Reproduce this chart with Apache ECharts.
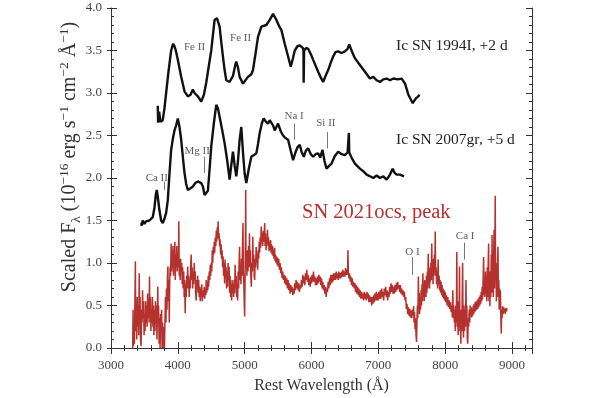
<!DOCTYPE html>
<html>
<head>
<meta charset="utf-8">
<script src="https://cdn.jsdelivr.net/npm/echarts@6/dist/echarts.min.js"></script>
<style>
  html, body { margin: 0; padding: 0; background: #fff; }
  #chart { width: 600px; height: 398px; }
</style>
</head>
<body>
<div id="chart"></div>
<script>
// SN 1994I, +2 d  [rest wavelength (A), scaled flux]
const sn1994I = [
  [3700,2.85],[3705,2.65],[3720,2.78],[3740,2.66],[3774,2.68],[3800,2.82],[3825,3.0],[3860,3.25],
  [3900,3.5],[3930,3.58],[3950,3.55],[3970,3.5],[4000,3.39],[4050,3.19],[4100,3.02],[4150,2.96],
  [4190,2.98],[4225,3.04],[4250,3.0],[4275,3.02],[4300,2.96],[4350,2.90],[4390,2.98],[4425,3.12],
  [4460,3.3],[4500,3.5],[4550,3.86],[4585,3.88],[4625,3.78],[4650,3.6],[4675,3.43],[4700,3.27],
  [4725,3.15],[4775,3.13],[4825,3.2],[4860,3.33],[4875,3.37],[4900,3.3],[4925,3.19],[4975,3.11],
  [5000,3.13],[5050,3.19],[5100,3.22],[5125,3.27],[5160,3.45],[5200,3.66],[5250,3.78],[5325,3.8],
  [5375,3.86],[5425,3.93],[5475,3.86],[5520,3.78],[5550,3.74],[5600,3.58],[5650,3.43],[5690,3.31],
  [5720,3.4],[5750,3.5],[5790,3.55],[5825,3.56],[5870,3.53],[5880,3.5],[5883,3.12],[5887,3.12],
  [5890,3.5],[5920,3.53],[5950,3.52],[6000,3.44],[6025,3.39],[6100,3.25],[6140,3.18],[6175,3.13],
  [6210,3.2],[6250,3.27],[6290,3.36],[6325,3.43],[6360,3.48],[6400,3.49],[6450,3.47],[6500,3.49],
  [6540,3.52],[6565,3.57],[6575,3.55],[6610,3.48],[6650,3.41],[6725,3.33],[6800,3.25],[6875,3.17],
  [6925,3.19],[6975,3.15],[7025,3.13],[7075,3.16],[7125,3.17],[7175,3.15],[7225,3.17],[7290,3.16],
  [7350,3.17],[7400,3.11],[7450,2.98],[7515,2.88],[7540,2.9],[7565,2.94],[7600,2.96],[7615,2.98]
];

// SN 2007gr, +5 d
const sn2007gr = [
  [3450,1.47],[3460,1.44],[3475,1.5],[3500,1.46],[3525,1.49],[3550,1.47],[3575,1.5],[3600,1.5],
  [3625,1.54],[3650,1.65],[3670,1.8],[3685,1.86],[3700,1.78],[3725,1.62],[3750,1.5],[3775,1.47],
  [3800,1.52],[3825,1.59],[3850,1.74],[3875,2.05],[3900,2.33],[3925,2.46],[3950,2.56],[3975,2.62],
  [4000,2.70],[4025,2.6],[4050,2.45],[4075,2.25],[4100,2.06],[4125,1.93],[4150,1.86],[4190,1.88],
  [4225,1.9],[4260,1.94],[4300,1.96],[4325,1.98],[4350,1.94],[4375,1.9],[4400,1.8],[4425,1.78],
  [4450,1.85],[4475,2.1],[4500,2.37],[4540,2.65],[4575,2.86],[4600,2.82],[4625,2.72],[4660,2.58],
  [4700,2.41],[4740,2.2],[4775,1.98],[4800,2.15],[4825,2.31],[4850,2.15],[4875,2.02],[4900,2.2],
  [4925,2.45],[4950,2.6],[4975,2.3],[5000,2.05],[5025,1.94],[5060,2.1],[5100,2.25],[5140,2.27],
  [5175,2.29],[5200,2.4],[5225,2.53],[5260,2.65],[5285,2.70],[5320,2.66],[5350,2.64],[5375,2.68],
  [5400,2.70],[5425,2.62],[5450,2.56],[5475,2.6],[5500,2.64],[5540,2.55],[5575,2.5],[5610,2.47],
  [5650,2.45],[5690,2.32],[5725,2.21],[5760,2.3],[5790,2.36],[5825,2.39],[5855,2.3],[5885,2.25],
  [5915,2.32],[5950,2.35],[5990,2.28],[6025,2.25],[6060,2.28],[6100,2.29],[6130,2.24],[6165,2.33],
  [6195,2.2],[6225,2.11],[6260,2.14],[6300,2.17],[6350,2.26],[6400,2.31],[6450,2.28],[6500,2.27],
  [6540,2.3],[6555,2.32],[6560,2.53],[6565,2.3],[6600,2.24],[6650,2.17],[6725,2.11],[6775,2.08],
  [6825,2.04],[6875,2.02],[6925,2.0],[6975,2.03],[7025,2.0],[7075,2.02],[7125,1.98],[7175,2.04],
  [7215,2.11],[7245,2.06],[7275,2.04],[7325,2.04],[7385,2.02]
];

// SN 2021ocs, peak (noisy spectrum)
const sn2021ocs = [
  [3325,0],[3330,0.45],[3335,0.02],[3345,0.3],[3350,0.05],[3358,0.55],[3365,1.02],[3370,0.2],
  [3378,0.45],[3385,0.1],[3392,0.6],[3400,0.25],[3408,0.5],[3415,0.15],[3422,0.88],[3428,0.4],
  [3435,0.6],[3442,0.1],[3450,0.02],[3458,0.45],[3465,0.3],[3472,0.68],[3480,0.35],[3488,0.55],
  [3495,0.15],[3502,0.4],[3510,0.2],[3518,0.55],[3525,0.3],[3532,0.5],[3540,0.25],[3548,0.64],
  [3555,0.35],[3562,0.55],[3570,0.3],[3576,0.84],[3582,0.4],[3590,0.6],[3597,0.2],[3605,0.45],
  [3612,0.3],[3620,0.6],[3627,0.25],[3635,0.5],[3642,0.15],[3650,0.45],[3658,0.2],[3665,0.55],
  [3672,0.3],[3680,0.5],[3688,0.1],[3695,0.45],[3700,0.72],[3706,0.3],[3712,0.5],[3720,0.05],
  [3727,0.35],[3735,0.0],[3742,0.4],[3750,0.2],[3757,0.45],[3765,0.0],[3772,0.3],[3780,0.0],
  [3790,0.25],[3800,0.0],[3808,0.35],[3815,0.6],[3822,0.3],[3830,0.7],[3838,0.45],[3845,0.85],
  [3852,0.96],[3858,0.55],[3865,0.8],[3872,0.3],[3878,0.75],[3885,0.95],[3892,0.85],[3900,1.23],
  [3907,0.9],[3914,1.1],[3920,0.95],[3928,1.2],[3935,0.85],[3942,1.15],[3950,1.05],[3956,1.25],
  [3962,0.8],[3970,1.1],[3977,0.95],[3985,1.2],[3992,0.9],[4000,1.1],[4008,0.95],[4015,1.49],
  [4021,0.85],[4028,1.0],[4035,0.8],[4042,1.05],[4050,0.9],[4058,1.0],[4065,0.75],[4072,0.95],
  [4080,0.7],[4088,0.9],[4095,0.6],[4102,0.8],[4110,0.41],[4118,0.75],[4125,0.6],[4132,0.85],
  [4140,0.7],[4148,0.96],[4155,0.7],[4162,0.85],[4170,0.6],[4178,0.8],[4185,0.7],[4192,0.95],
  [4200,1.1],[4207,0.8],[4214,0.95],[4222,0.7],[4230,0.9],[4237,0.75],[4245,1.0],[4252,0.8],
  [4260,0.9],[4267,0.65],[4275,0.56],[4282,0.8],[4290,0.7],[4297,0.85],[4305,0.65],[4312,0.8],
  [4320,0.6],[4328,0.72],[4335,0.55],[4343,0.7],[4350,0.6],[4358,0.75],[4365,0.55],[4372,0.53],
  [4380,0.68],[4388,0.6],[4395,0.72],[4402,0.58],[4410,0.7],[4418,0.62],[4425,0.8],[4432,0.65],
  [4440,0.78],[4448,0.68],[4455,0.85],[4462,0.72],[4470,0.9],[4478,0.8],[4485,0.98],[4492,0.85],
  [4500,1.0],[4508,0.9],[4515,1.15],[4522,1.0],[4530,1.19],[4538,1.1],[4545,1.25],[4552,1.12],
  [4560,1.3],[4568,1.2],[4575,1.38],[4582,1.25],[4590,1.42],[4597,1.3],[4603,1.49],[4610,1.28],
  [4618,1.35],[4625,1.2],[4632,1.28],[4640,1.1],[4648,1.22],[4655,1.05],[4662,1.15],[4670,0.95],
  [4677,1.08],[4685,0.85],[4692,1.0],[4700,0.76],[4707,1.04],[4714,0.82],[4722,0.95],[4730,0.7],
  [4737,0.9],[4745,0.72],[4752,1.0],[4760,0.8],[4767,0.96],[4775,0.65],[4782,0.85],[4790,0.6],
  [4797,0.75],[4805,0.56],[4812,0.8],[4820,0.65],[4827,0.75],[4835,0.6],[4842,0.8],[4850,0.64],
  [4857,0.98],[4864,0.7],[4872,0.85],[4880,0.6],[4887,0.75],[4895,0.56],[4902,0.9],[4910,0.7],
  [4917,1.0],[4924,1.19],[4930,0.8],[4938,0.95],[4945,0.75],[4952,1.05],[4960,0.85],[4968,1.2],
  [4975,1.47],[4981,0.9],[4988,0.75],[4995,0.5],[5000,0.37],[5006,0.8],[5012,1.3],[5016,1.86],
  [5020,0.95],[5027,1.1],[5034,0.85],[5042,1.15],[5050,0.9],[5058,1.2],[5066,0.95],[5072,1.35],
  [5078,1.0],[5085,1.15],[5092,0.85],[5100,0.72],[5107,1.0],[5115,0.9],[5122,1.31],[5128,0.95],
  [5136,1.1],[5143,0.85],[5150,0.8],[5158,1.05],[5165,0.95],[5172,1.19],[5180,1.0],[5188,1.1],
  [5195,0.92],[5202,1.15],[5210,1.05],[5218,1.25],[5225,1.12],[5232,1.3],[5240,1.18],[5248,1.43],
  [5255,1.25],[5262,1.35],[5270,1.2],[5278,1.38],[5285,1.25],[5292,1.32],[5300,1.47],[5306,1.2],
  [5314,1.35],[5320,1.15],[5328,1.3],[5335,1.2],[5342,1.39],[5350,1.22],[5357,1.3],[5365,1.14],
  [5372,1.25],[5380,1.15],[5388,1.27],[5395,1.12],[5402,1.22],[5410,1.1],[5418,1.2],[5425,1.08],
  [5433,1.15],[5440,1.05],[5448,1.18],[5455,1.02],[5462,1.1],[5470,1.0],[5478,1.08],[5485,0.98],
  [5492,1.06],[5500,0.96],[5510,1.05],[5520,0.92],[5530,1.0],[5540,0.88],[5550,0.95],[5560,0.82],
  [5570,0.9],[5580,0.8],[5590,0.86],[5600,0.76],[5610,0.85],[5620,0.74],[5630,0.82],[5640,0.7],
  [5650,0.8],[5660,0.68],[5670,0.76],[5680,0.64],[5690,0.74],[5700,0.66],[5710,0.72],[5720,0.62],
  [5730,0.7],[5740,0.64],[5750,0.76],[5760,0.68],[5770,0.8],[5780,0.7],[5790,0.78],[5800,0.68],
  [5810,0.76],[5820,0.66],[5830,0.74],[5840,0.7],[5850,0.8],[5860,0.72],[5870,0.86],[5880,0.76],
  [5890,0.84],[5900,0.74],[5910,0.88],[5920,0.8],[5930,0.92],[5940,0.78],[5950,0.86],[5960,0.74],
  [5970,0.82],[5980,0.72],[5990,0.84],[6000,0.76],[6010,0.86],[6020,0.78],[6030,0.9],[6040,0.78],
  [6050,0.84],[6060,0.74],[6070,0.82],[6080,0.74],[6090,0.84],[6100,0.76],[6110,0.86],[6120,0.78],
  [6130,0.84],[6140,0.74],[6150,0.82],[6160,0.7],[6170,0.78],[6180,0.68],[6190,0.74],[6200,0.64],
  [6210,0.72],[6220,0.6],[6230,0.7],[6240,0.66],[6250,0.78],[6260,0.7],[6270,0.82],[6280,0.74],
  [6290,0.86],[6300,0.76],[6310,0.86],[6320,0.78],[6330,0.88],[6340,0.8],[6350,0.88],[6360,0.8],
  [6370,0.9],[6380,0.82],[6390,0.88],[6400,0.8],[6410,0.9],[6420,0.82],[6430,0.88],[6440,0.82],
  [6450,0.9],[6460,0.84],[6470,0.92],[6480,0.84],[6490,0.9],[6500,0.84],[6510,0.94],[6520,0.86],
  [6530,0.92],[6540,0.86],[6546,1.15],[6552,0.88],[6560,0.82],[6570,0.88],[6580,0.78],[6590,0.84],
  [6600,0.74],[6610,0.82],[6620,0.72],[6630,0.78],[6640,0.7],[6650,0.76],[6660,0.66],[6670,0.74],
  [6680,0.64],[6690,0.72],[6700,0.62],[6710,0.7],[6720,0.6],[6730,0.68],[6740,0.58],[6750,0.66],
  [6760,0.58],[6770,0.64],[6780,0.56],[6790,0.66],[6800,0.58],[6810,0.64],[6820,0.56],[6830,0.66],
  [6840,0.58],[6850,0.64],[6860,0.54],[6870,0.62],[6880,0.54],[6890,0.6],[6900,0.5],[6910,0.6],
  [6920,0.52],[6930,0.62],[6940,0.54],[6950,0.64],[6960,0.56],[6970,0.66],[6980,0.56],[6990,0.64],
  [7000,0.56],[7010,0.66],[7020,0.58],[7030,0.68],[7040,0.58],[7050,0.7],[7060,0.6],[7070,0.66],
  [7080,0.56],[7090,0.7],[7100,0.62],[7110,0.72],[7120,0.6],[7130,0.68],[7140,0.56],[7150,0.66],
  [7160,0.6],[7170,0.72],[7180,0.64],[7190,0.76],[7200,0.66],[7210,0.74],[7220,0.64],[7230,0.72],
  [7240,0.64],[7250,0.74],[7260,0.66],[7270,0.76],[7280,0.68],[7290,0.78],[7300,0.7],[7310,0.74],
  [7320,0.66],[7330,0.74],[7340,0.64],[7350,0.7],[7360,0.62],[7370,0.68],[7380,0.6],[7390,0.66],
  [7400,0.56],[7410,0.6],[7420,0.46],[7430,0.52],[7440,0.4],[7450,0.48],[7460,0.38],[7470,0.46],
  [7480,0.36],[7490,0.44],[7500,0.35],[7510,0.45],[7520,0.38],[7528,0.49],[7535,0.3],[7542,0.42],
  [7550,0.22],[7557,0.35],[7565,0.15],[7572,0.07],[7578,0.3],[7585,0.5],[7592,0.35],[7600,0.84],
  [7606,0.45],[7612,0.65],[7618,0.4],[7625,0.6],[7632,0.45],[7640,0.68],[7647,0.5],[7654,0.75],
  [7660,0.55],[7667,0.88],[7673,0.6],[7680,0.72],[7687,0.55],[7694,0.8],[7700,0.6],[7707,0.75],
  [7714,0.6],[7720,0.85],[7727,0.65],[7734,0.9],[7740,0.7],[7747,1.11],[7753,0.75],[7760,0.9],
  [7767,0.7],[7774,0.95],[7780,0.78],[7787,1.0],[7793,0.8],[7800,1.23],[7806,0.85],[7813,0.95],
  [7820,0.75],[7827,1.05],[7833,0.85],[7840,1.1],[7846,0.9],[7852,1.37],[7858,0.85],[7865,0.95],
  [7872,0.75],[7880,0.9],[7887,0.7],[7895,1.04],[7902,0.75],[7910,0.85],[7917,0.68],[7925,0.8],
  [7932,0.65],[7940,0.78],[7948,0.62],[7955,0.74],[7963,0.6],[7970,0.7],[7978,0.58],[7985,0.68],
  [7993,0.56],[8000,0.66],[8010,0.54],[8020,0.62],[8030,0.5],[8040,0.6],[8050,0.48],[8060,0.56],
  [8070,0.46],[8080,0.54],[8090,0.42],[8100,0.5],[8108,0.36],[8115,0.68],[8122,0.35],[8130,0.5],
  [8138,0.3],[8145,0.45],[8152,0.2],[8160,0.5],[8168,0.3],[8175,1.13],[8181,0.25],[8188,0.45],
  [8195,0.15],[8202,0.55],[8208,0.3],[8215,0.96],[8221,0.2],[8228,0.4],[8235,0.05],[8242,0.45],
  [8250,0.2],[8256,0.6],[8262,1.0],[8268,0.3],[8275,0.12],[8282,0.5],[8290,0.2],[8297,0.45],
  [8305,0.25],[8312,0.8],[8318,0.3],[8325,0.5],[8332,0.1],[8338,0.05],[8345,0.35],[8352,0.25],
  [8360,0.45],[8368,0.3],[8375,0.5],[8383,0.38],[8390,0.48],[8398,0.36],[8405,0.46],[8413,0.38],
  [8420,0.5],[8428,0.4],[8435,0.52],[8443,0.42],[8450,0.54],[8458,0.44],[8465,0.55],[8473,0.45],
  [8480,0.56],[8488,0.46],[8495,0.58],[8503,0.48],[8510,0.6],[8518,0.5],[8525,0.62],[8533,0.52],
  [8540,0.66],[8548,0.55],[8555,0.72],[8562,0.58],[8570,0.85],[8576,1.07],[8582,0.62],[8590,0.8],
  [8597,0.6],[8604,0.9],[8610,0.65],[8617,0.84],[8624,0.55],[8631,0.95],[8638,0.6],[8645,1.0],
  [8651,1.23],[8657,0.55],[8664,0.8],[8670,0.49],[8677,0.9],[8684,0.6],[8690,1.1],[8697,0.7],
  [8702,1.33],[8708,0.65],[8715,1.0],[8721,0.6],[8727,1.15],[8733,1.39],[8739,0.7],[8745,1.2],
  [8750,1.79],[8755,0.8],[8761,1.0],[8767,0.55],[8773,0.9],[8779,0.6],[8785,1.05],[8791,1.19],
  [8797,0.6],[8803,0.8],[8809,0.45],[8815,0.7],[8821,0.5],[8827,0.68],[8833,0.4],[8840,0.17],
  [8846,0.45],[8852,0.35],[8860,0.49],[8868,0.4],[8876,0.48],[8884,0.42],[8892,0.46],[8900,0.4],
  [8910,0.47],[8918,0.43],[8925,0.47]
];

// line identifications: label text and where it sits (wavelength, flux)
const lineNames = ['Fe II', 'Fe II', 'Ca II', 'Mg II', 'Na I', 'Si II', 'O I', 'Ca I'];
const lineLabelWave = [4250, 4940, 3685, 4290, 5740, 6215, 7510, 8300];
const lineLabelFlux = [3.54, 3.65, 2.0, 2.32, 2.73, 2.64, 1.13, 1.32];
// small vertical marker bars under some labels
const markWave = [3790, 4400, 5740, 6240, 7515, 8290];
const markTop = [1.96, 2.25, 2.64, 2.54, 1.07, 1.24];
const markBottom = [1.86, 2.06, 2.45, 2.35, 0.86, 1.04];

const xTicks = [3000, 4000, 5000, 6000, 7000, 8000, 9000];

const FONT = 'Liberation Serif';
const AX = '#333';

const chart = echarts.init(document.getElementById('chart'), null, { renderer: 'canvas' });

const base = { type: 'value', min: 3000, max: 9300, splitLine: { show: false } };
const yBase = { type: 'value', min: 0, max: 4, splitLine: { show: false } };
const line = { show: true, lineStyle: { color: AX, width: 1 } };

chart.setOption({
  animation: false,
  grid: { left: 111, right: 68, top: 8, bottom: 50, outerBoundsMode: 'none' },
  xAxis: [
    {
      ...base, position: 'bottom', interval: 1000, axisLine: line,
      axisTick: { inside: true, length: 6, lineStyle: { color: AX } },
      axisLabel: {
        margin: 11, fontFamily: FONT, fontSize: 13, color: '#444',
        formatter: v => xTicks.includes(v) ? String(v) : ''
      },
      name: 'Rest Wavelength (Å)', nameLocation: 'middle', nameGap: 30,
      nameTextStyle: { fontFamily: FONT, fontSize: 16, color: '#333' }
    },
    { ...base, position: 'bottom', interval: 200, axisLine: { show: false },
      axisTick: { inside: true, length: 3, lineStyle: { color: AX } }, axisLabel: { show: false } },
    { ...base, position: 'bottom', interval: 1000, axisLine: { show: false },
      axisTick: { inside: false, length: 4, lineStyle: { color: AX } }, axisLabel: { show: false } },
    { ...base, position: 'top', interval: 1000, axisLine: line,
      axisTick: { inside: true, length: 6, lineStyle: { color: AX } }, axisLabel: { show: false } },
    { ...base, position: 'top', interval: 200, axisLine: { show: false },
      axisTick: { inside: true, length: 3, lineStyle: { color: AX } }, axisLabel: { show: false } }
  ],
  yAxis: [
    {
      ...yBase, position: 'left', interval: 0.5, axisLine: line,
      axisTick: { inside: true, length: 6, lineStyle: { color: AX } },
      axisLabel: { margin: 9, fontFamily: FONT, fontSize: 13, color: '#444', formatter: v => v.toFixed(1) }
    },
    { ...yBase, position: 'left', interval: 0.1, axisLine: { show: false },
      axisTick: { inside: true, length: 3, lineStyle: { color: AX } }, axisLabel: { show: false } },
    { ...yBase, position: 'left', interval: 0.5, axisLine: { show: false },
      axisTick: { inside: false, length: 4, lineStyle: { color: AX } }, axisLabel: { show: false } },
    { ...yBase, position: 'right', interval: 0.5, axisLine: line,
      axisTick: { inside: true, length: 6, lineStyle: { color: AX } }, axisLabel: { show: false } },
    { ...yBase, position: 'right', interval: 0.1, axisLine: { show: false },
      axisTick: { inside: true, length: 3, lineStyle: { color: AX } }, axisLabel: { show: false } }
  ],
  graphic: [
    {
      type: 'text', x: 70, y: 157, rotation: Math.PI / 2,
      style: {
        text: '{n|Scaled F}{sub|λ}{n| (10}{sup|−16}{n| erg s}{sup|−1}{n| cm}{sup|−2}{n| Å}{sup|−1}{n|)}',
        align: 'center', verticalAlign: 'middle',
        fontFamily: FONT, fontSize: 20, fill: '#333',
        rich: {
          n: { fontFamily: FONT, fontSize: 20, fill: '#333', lineHeight: 26 },
          sup: { fontFamily: FONT, fontSize: 13.5, fill: '#333', verticalAlign: 'top', lineHeight: 14 },
          sub: { fontFamily: FONT, fontSize: 13.5, fill: '#333', verticalAlign: 'bottom', lineHeight: 14 }
        }
      }
    },
    { type: 'text', left: 396, top: 38, style: { text: 'Ic SN 1994I, +2 d', fontFamily: FONT, fontSize: 15.5, fill: '#222' } },
    { type: 'text', left: 396, top: 132, style: { text: 'Ic SN 2007gr, +5 d', fontFamily: FONT, fontSize: 15.5, fill: '#222' } },
    { type: 'text', left: 302, top: 202, style: { text: 'SN 2021ocs, peak', fontFamily: FONT, fontSize: 20.5, fill: '#b5312e' } }
  ],
  series: [
    {
      name: 'SN 2021ocs', type: 'line', data: sn2021ocs, showSymbol: false,
      lineStyle: { color: '#b5312e', width: 1.5 }, z: 2
    },
    {
      name: 'SN 2007gr', type: 'line', data: sn2007gr, showSymbol: false,
      lineStyle: { color: '#111', width: 2.4 }, z: 3
    },
    {
      name: 'SN 1994I', type: 'line', data: sn1994I, showSymbol: false,
      lineStyle: { color: '#111', width: 2.4 }, z: 3
    },
    {
      name: 'ids', type: 'scatter', symbolSize: 0, silent: true, z: 4,
      data: lineNames.map((n, i) => ({ name: n, value: [lineLabelWave[i], lineLabelFlux[i]] })),
      label: {
        show: true, position: 'inside', formatter: p => p.name,
        fontFamily: FONT, fontSize: 11, color: '#333'
      },
      markLine: {
        silent: true, symbol: ['none', 'none'], label: { show: false },
        lineStyle: { color: '#777', width: 1, type: 'solid' },
        data: markWave.map((w, i) => [{ coord: [w, markTop[i]] }, { coord: [w, markBottom[i]] }])
      }
    }
  ]
});
</script>
</body>
</html>
